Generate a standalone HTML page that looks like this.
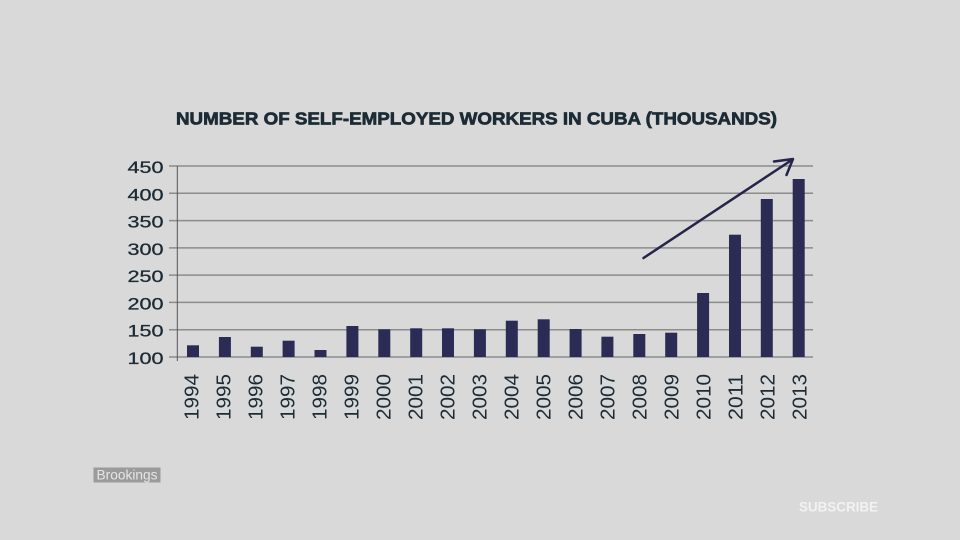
<!DOCTYPE html>
<html><head><meta charset="utf-8"><style>
html,body{margin:0;padding:0;background:#d9d9d9;}
svg{display:block;}
</style></head><body>
<svg width="960" height="540" viewBox="0 0 960 540" xmlns="http://www.w3.org/2000/svg">
<rect width="960" height="540" fill="#d9d9d9"/>
<text x="176" y="124.5" font-family="Liberation Sans, sans-serif" font-weight="bold" font-size="17.5" fill="#1c2b35" stroke="#1c2b35" stroke-width="0.7" textLength="601" lengthAdjust="spacingAndGlyphs">NUMBER OF SELF-EMPLOYED WORKERS IN CUBA (THOUSANDS)</text>
<g stroke="#8c8c8c" stroke-width="1.5">
<line x1="169" y1="166" x2="813" y2="166"/>
<line x1="169" y1="193.3" x2="813" y2="193.3"/>
<line x1="169" y1="220.6" x2="813" y2="220.6"/>
<line x1="169" y1="247.9" x2="813" y2="247.9"/>
<line x1="169" y1="275.1" x2="813" y2="275.1"/>
<line x1="169" y1="302.4" x2="813" y2="302.4"/>
<line x1="169" y1="329.7" x2="813" y2="329.7"/>
<line x1="169" y1="357" x2="813" y2="357"/>
</g>
<line x1="177.3" y1="166" x2="177.3" y2="361" stroke="#555" stroke-width="1"/>
<g font-family="Liberation Sans, sans-serif" font-size="16.5" fill="#1c2b35" stroke="#1c2b35" stroke-width="0.3" text-anchor="end">
<text x="163.5" y="173" textLength="36" lengthAdjust="spacingAndGlyphs">450</text>
<text x="163.5" y="200.3" textLength="36" lengthAdjust="spacingAndGlyphs">400</text>
<text x="163.5" y="227.6" textLength="36" lengthAdjust="spacingAndGlyphs">350</text>
<text x="163.5" y="254.9" textLength="36" lengthAdjust="spacingAndGlyphs">300</text>
<text x="163.5" y="282.1" textLength="36" lengthAdjust="spacingAndGlyphs">250</text>
<text x="163.5" y="309.4" textLength="36" lengthAdjust="spacingAndGlyphs">200</text>
<text x="163.5" y="336.7" textLength="36" lengthAdjust="spacingAndGlyphs">150</text>
<text x="163.5" y="364" textLength="36" lengthAdjust="spacingAndGlyphs">100</text>
</g>
<g fill="#2b2b55">
<rect x="187" y="345.3" width="12" height="11.7"/>
<rect x="218.9" y="337" width="12" height="20"/>
<rect x="250.8" y="346.7" width="12" height="10.3"/>
<rect x="282.6" y="340.7" width="12" height="16.3"/>
<rect x="314.5" y="350" width="12" height="7"/>
<rect x="346.4" y="326" width="12" height="31"/>
<rect x="378.3" y="329.3" width="12" height="27.7"/>
<rect x="410.2" y="328.3" width="12" height="28.7"/>
<rect x="442" y="328.3" width="12" height="28.7"/>
<rect x="473.9" y="329.3" width="12" height="27.7"/>
<rect x="505.8" y="320.7" width="12" height="36.3"/>
<rect x="537.7" y="319.3" width="12" height="37.7"/>
<rect x="569.6" y="329" width="12" height="28"/>
<rect x="601.4" y="336.7" width="12" height="20.3"/>
<rect x="633.3" y="334" width="12" height="23"/>
<rect x="665.2" y="332.7" width="12" height="24.3"/>
<rect x="697.1" y="293" width="12" height="64"/>
<rect x="729" y="234.7" width="12" height="122.3"/>
<rect x="760.8" y="199" width="12" height="158"/>
<rect x="792.7" y="179" width="12" height="178"/>
</g>
<g font-family="Liberation Sans, sans-serif" font-size="20" fill="#1c2b35" text-anchor="end">
<text transform="translate(198.5,374) rotate(-90)" textLength="46" lengthAdjust="spacingAndGlyphs">1994</text>
<text transform="translate(230.5,374) rotate(-90)" textLength="46" lengthAdjust="spacingAndGlyphs">1995</text>
<text transform="translate(262.5,374) rotate(-90)" textLength="46" lengthAdjust="spacingAndGlyphs">1996</text>
<text transform="translate(294.5,374) rotate(-90)" textLength="46" lengthAdjust="spacingAndGlyphs">1997</text>
<text transform="translate(326.5,374) rotate(-90)" textLength="46" lengthAdjust="spacingAndGlyphs">1998</text>
<text transform="translate(358.5,374) rotate(-90)" textLength="46" lengthAdjust="spacingAndGlyphs">1999</text>
<text transform="translate(390.5,374) rotate(-90)" textLength="46" lengthAdjust="spacingAndGlyphs">2000</text>
<text transform="translate(422.5,374) rotate(-90)" textLength="46" lengthAdjust="spacingAndGlyphs">2001</text>
<text transform="translate(454.5,374) rotate(-90)" textLength="46" lengthAdjust="spacingAndGlyphs">2002</text>
<text transform="translate(486.5,374) rotate(-90)" textLength="46" lengthAdjust="spacingAndGlyphs">2003</text>
<text transform="translate(518.5,374) rotate(-90)" textLength="46" lengthAdjust="spacingAndGlyphs">2004</text>
<text transform="translate(550.5,374) rotate(-90)" textLength="46" lengthAdjust="spacingAndGlyphs">2005</text>
<text transform="translate(582.5,374) rotate(-90)" textLength="46" lengthAdjust="spacingAndGlyphs">2006</text>
<text transform="translate(614.5,374) rotate(-90)" textLength="46" lengthAdjust="spacingAndGlyphs">2007</text>
<text transform="translate(646.5,374) rotate(-90)" textLength="46" lengthAdjust="spacingAndGlyphs">2008</text>
<text transform="translate(678.5,374) rotate(-90)" textLength="46" lengthAdjust="spacingAndGlyphs">2009</text>
<text transform="translate(710.5,374) rotate(-90)" textLength="46" lengthAdjust="spacingAndGlyphs">2010</text>
<text transform="translate(742.5,374) rotate(-90)" textLength="46" lengthAdjust="spacingAndGlyphs">2011</text>
<text transform="translate(774.5,374) rotate(-90)" textLength="46" lengthAdjust="spacingAndGlyphs">2012</text>
<text transform="translate(806.5,374) rotate(-90)" textLength="46" lengthAdjust="spacingAndGlyphs">2013</text>
</g>
<g stroke="#25254a" stroke-width="2.5" fill="none" stroke-linecap="round" stroke-linejoin="round">
<line x1="643.5" y1="258" x2="792.5" y2="159.5"/>
<polyline points="774,161.5 793,159 786.5,175"/>
</g>
<rect x="93.5" y="467.5" width="67" height="15" fill="#9b9b9b"/>
<text x="96.5" y="479.7" font-family="Liberation Sans, sans-serif" font-size="13.5" fill="#e6e6e6" textLength="61" lengthAdjust="spacingAndGlyphs">Brookings</text>
<text x="799" y="511.5" font-family="Liberation Sans, sans-serif" font-weight="bold" font-size="13.5" fill="#f2f2f2" textLength="79" lengthAdjust="spacingAndGlyphs">SUBSCRIBE</text>
</svg>
</body></html>
